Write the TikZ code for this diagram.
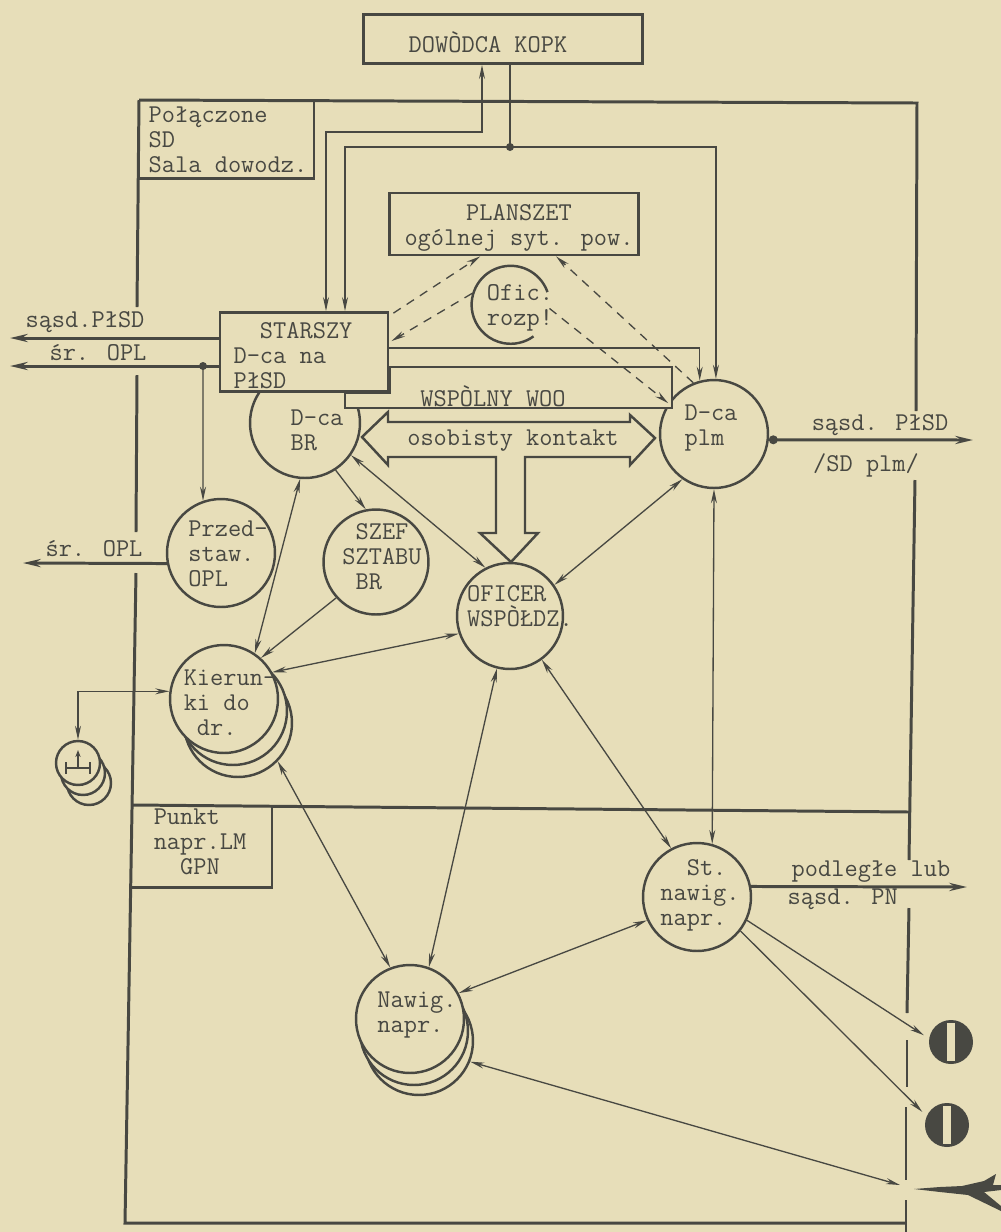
\documentclass[tikz,border=0pt]{standalone}
\usepackage{fontspec}
\usepackage{tikz}
\usetikzlibrary{arrows.meta,calc}
\definecolor{papier}{RGB}{231,222,185}
\definecolor{tusz}{RGB}{72,72,66}
\setlength{\lineskiplimit}{-20pt}
\tikzstyle{post}=[circle, draw, fill=papier,% kolko stanowiska
line width=1.4pt, minimum size=2.16cm, inner sep=0pt]
\tikzstyle{blok}=[rectangle, draw, fill=papier, line width=1.6pt, inner sep=0pt]
\tikzstyle{opis}=[inner sep=0pt, align=left, font=\ttfamily\fontsize{14.6}{14.2}\selectfont]
\tikzstyle{lnk}=[line width=0.75pt, >={Stealth[length=8pt,width=3.4pt]}]
\tikzstyle{thk}=[line width=1.7pt, >={Stealth[length=10pt,width=4.6pt]}]
\tikzstyle{dsh}=[lnk, dash pattern=on 5pt off 4pt]
\tikzstyle{ramka}=[line width=1.7pt]

\begin{document}
\begin{tikzpicture}[x=0.02cm,y=-0.02cm,color=tusz,lnk]
\fill[papier] (0,0) rectangle (1001,1232);
\useasboundingbox (0,0) rectangle (1001,1232);
% ramki
\draw[ramka] (139,100) -- (917,103) -- (916,411);
\draw[ramka] (915,480) -- (909,860);
\draw[ramka] (909,908) -- (907,1013);
\draw[ramka] (907,1040) -- (907,1087);
\draw[ramka] (906,1107) -- (906,1180);
\draw[ramka] (906,1200) -- (906,1232);
\draw[ramka] (139,100) -- (137,307);
\draw[ramka] (137,375) -- (136,532);
\draw[ramka] (136,573) -- (125,1223) -- (906,1223);
\draw[ramka] (139,178) -- (314,178) -- (314,100);
\draw[ramka] (133,805) -- (909,812);
\draw[ramka] (132,887) -- (272,887) -- (272,806);
\node[opis] (sd-t) at (228,140) {Połączone\\SD\\Sala dowodz.};
\node[opis] (lm-t) at (200,842) {Punkt\\napr.LM\\\phantom{na}GPN};
% stanowiska
\node[blok, minimum width=5.58cm, minimum height=0.98cm] (dowodca) at (503,39) {};
\node[opis] (dowodca-t) at (488,42) {DOWÒDCA KOPK};
\node[blok, minimum width=4.98cm, minimum height=1.24cm] (planszet) at (514,224) {};
\node[opis, align=center] (planszet-t) at (519,228) {PLANSZET\\ogólnej syt. pow.};
\node[post, minimum size=2.2cm] (dcabr) at (305,423) {};
\node[opis] (dcabr-t) at (317,430) {D-ca\\BR};
\node[blok, minimum width=3.36cm, minimum height=1.58cm] (starszy) at (304,352) {};
\node[opis] (starszy-t) at (293,356) {\phantom{DO}STARSZY\\D-ca na\\PłSD};
\node[post] (dcaplm) at (714,434) {};
\node[opis] (dcaplm-t) at (711,428) {D-ca\\plm};
\node[post] (przed) at (221,553) {};
\node[opis] (przed-t) at (228,554) {Przed-\\staw.\\OPL};
\node[post, minimum size=2.1cm] (szef) at (376,562) {};
\node[opis] (szef-t) at (382,557) {\phantom{S}SZEF\\SZTABU\\\phantom{S}BR};
\node[post, minimum size=2.12cm] (oficer) at (510,616) {};
\node[opis] (oficer-t) at (520,606) {OFICER\\WSPÒŁDZ.};
\node[post] (kier3) at (238,723) {};
\node[post] (kier2) at (233,711) {};
\node[post] (kier) at (224,699) {};
\node[opis] (kier-t) at (230,703) {Kierun-\\ki do\\\phantom{k}dr.};
\node[post] (stnawig) at (697,897) {};
\node[opis] (stnawig-t) at (700,895) {\phantom{na}St.\\nawig.\\napr.};
\node[post] (nawig3) at (419,1041) {};
\node[post] (nawig2) at (414,1031) {};
\node[post] (nawig) at (410,1019) {};
\node[opis] (nawig-t) at (417,1015) {Nawig.\\napr.};
\node[circle, minimum size=1.56cm, inner sep=0pt] (ofic) at (510,305) {};
\draw[line width=1.4pt] (ofic.19) arc[start angle=19, end angle=306, radius=0.78cm];
\node[opis] (ofic-t) at (520,308) {Ofic.\\rozp!};
\node[post, minimum size=0.88cm] (radar3) at (89,783) {};
\node[post, minimum size=0.88cm] (radar2) at (83,773) {};
\node[post, minimum size=0.88cm] (radar) at (78,763) {};
\draw[line width=1.2pt] (66,762) -- (66,774) (66,768) -- (90,768) (90,762) -- (90,774);
\draw[line width=1pt,-{Stealth[length=4pt,width=3pt]}] (78,768) -- (78,750);
\node[circle, fill, minimum size=0.88cm, inner sep=0pt, outer sep=0.12cm] (sym1) at (951,1042) {};
\fill[papier] ($(sym1.center)+(-4,-19)$) rectangle ($(sym1.center)+(4,19)$);
\node[circle, fill, minimum size=0.88cm, inner sep=0pt, outer sep=0.12cm] (sym2) at (947,1125) {};
\fill[papier] ($(sym2.center)+(-4,-19)$) rectangle ($(sym2.center)+(4,19)$);
\fill (914,1189) -- (940,1187) -- (962,1186) -- (984,1181) -- (996,1174) -- (993,1185) -- (1001,1185) -- (1001,1190) -- (984,1192) -- (1001,1206) -- (1001,1211) -- (968,1195) -- (940,1192) -- cycle;
\coordinate (samolot) at (900,1185);
% wspolny WOO i kontakt
\coordinate (woot) at (672,367);
\coordinate (woob) at (672,408);
\coordinate (wool) at (345,0);
\draw[line width=1.5pt, fill=papier] (starszy.east |- woot) -- (woot) -- (woob) -- (woob -| wool) -- (starszy.south -| wool) -- (starszy.south east) -- cycle;
\node[opis] (woo-t) at (493,396) {WSPÒLNY WOO};
\draw[line width=1.4pt, fill=papier] (362,437) -- (388,412) -- (388,422) -- (630,422) -- (630,415) -- (655,438) -- (630,465) -- (630,457) -- (525,457) -- (525,533) -- (538,533) -- (511,562) -- (480,533) -- (496,533) -- (496,457) -- (388,457) -- (388,465) -- cycle;
\node[opis] (kontakt-t) at (513,441) {osobisty kontakt};
% polaczenia
\coordinate (c1) at (326,132);
\coordinate (c2) at (482,132);
\draw[<->] (starszy.north -| c1) -- (c1) -- (c2) -- (dowodca.south -| c2);
\coordinate (j1) at (510,147);
\coordinate (c3) at (345,147);
\draw (dowodca.south -| j1) -- (j1);
\draw[->] (j1) -- (c3) -- (starszy.north -| c3);
\draw[->] (j1) -| (dcaplm.88);
\fill (j1) circle (4);
\coordinate (y1) at (0,348);
\draw[->] (starszy.east |- y1) -| (dcaplm.105);
\draw[dsh,->] ($(starszy.north east)+(4,2)$) -- ($(planszet.south west)+(92,0)$);
\draw[dsh,->] (ofic.163) -- ($(starszy.north east)+(2,30)$);
\draw[dsh,->] (dcaplm.112) -- ($(planszet.south west)+(168,0)$);
\draw[dsh,->] (ofic.-5) -- (dcaplm.146);
\coordinate (wyj1) at (10,338);
\coordinate (wyj2) at (10,366);
\coordinate (j2) at (203,366);
\draw[thk,->] (starszy.west |- wyj1) -- (wyj1);
\draw[thk,->] (starszy.west |- wyj2) -- (wyj2);
\fill (j2) circle (4);
\draw[->] (j2) -- (przed.109);
\node[opis] (wyj1-t) at (85,322) {sąsd.PłSD};
\node[opis] (wyj2-t) at (98,353) {śr. OPL};
\coordinate (wyj3) at (23,563);
\draw[thk,->] (przed.191) -- (wyj3);
\node[opis] (wyj3-t) at (94,549) {śr. OPL};
\coordinate (wyj4) at (973,440);
\draw[thk,{Circle[length=5pt]}->] (dcaplm.-6) -- (wyj4);
\node[opis] (wyj4-t) at (880,425) {sąsd. PłSD};
\node[opis] (wyj4-b) at (866,465) {/SD plm/};
\coordinate (wyj5) at (967,887);
\draw[thk,->] (stnawig.11) -- (wyj5);
\node[opis] (wyj5-t) at (871,872) {podległe lub};
\node[opis, anchor=west] (wyj5-b) at (787,899) {sąsd. PN};
\draw[->] (dcabr.-57) -- (szef.101);
\draw[<->] (dcabr.-35) -- (oficer.117);
\draw[<->] (dcabr.-95) -- (kier.56);
\draw[->] (szef.222) -- (kier.48);
\draw[<->] (kier.29) -- (oficer.199);
\draw[<->] (kier3.-44) -- (nawig.111);
\draw[<->] (oficer.-104) -- (nawig.70);
\draw[<->] (oficer.-54) -- (stnawig.118);
\draw[<->] (dcaplm.235) -- (oficer.35);
\draw[<->] (dcaplm.-90) -- (stnawig.74);
\draw[<->] (radar.north) |- (kier.172);
\draw[->] (stnawig.-25) -- (sym1.166);
\draw[->] (stnawig.-38) -- (sym2.152);
\draw[<->] (nawig.28) -- (stnawig.205);
\draw[<->] (nawig3.-22) -- (samolot);
\end{tikzpicture}
\end{document}
